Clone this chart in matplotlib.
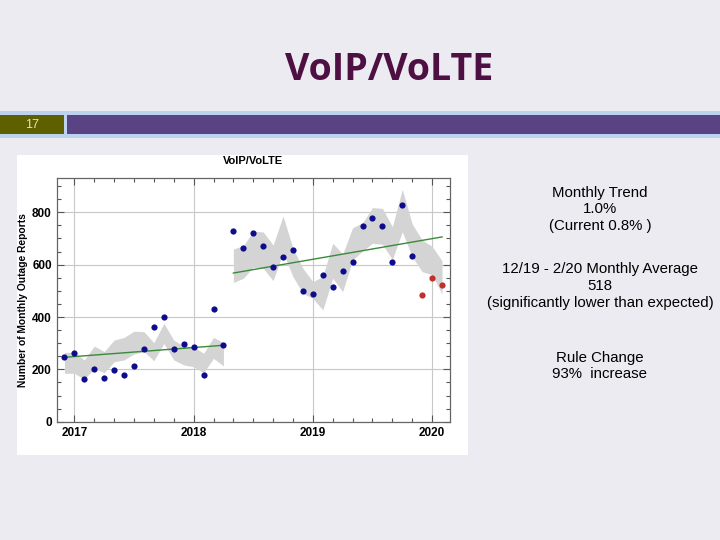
import numpy as np
import pandas as pd
import matplotlib
matplotlib.use("Agg")
import matplotlib.pyplot as plt
from matplotlib.ticker import MultipleLocator, FixedLocator
from matplotlib.patches import Rectangle

# ---------------- data ----------------
seg1_months = pd.period_range("2016-12", "2018-04", freq="M")
seg1_values = [246, 261, 162, 200, 166, 196, 177, 211, 276, 360, 399, 276, 296, 284, 177, 429, 292]
seg1_upper = [265, 265, 236, 289, 268, 312, 322, 346, 344, 302, 376, 312, 289, 287, 261, 322, 302]
seg1_lower = [185, 185, 162, 204, 187, 229, 236, 259, 268, 233, 299, 236, 217, 210, 187, 242, 213]
seg1_trend = [246, 292]

seg2_months = pd.period_range("2018-05", "2020-02", freq="M")
seg2_values = [727, 662, 720, 670, 590, 628, 655, 498, 487, 562, 513, 574, 609, 746, 777, 746, 609, 827, 632]
seg2_upper = [660, 672, 728, 725, 675, 786, 662, 586, 535, 555, 682, 641, 741, 760, 818, 815, 745, 888, 755, 694, 670, 615]
seg2_lower = [532, 548, 590, 586, 539, 646, 554, 490, 471, 427, 548, 497, 618, 652, 682, 678, 620, 726, 630, 573, 562, 488]
seg2_trend = [568, 706]

red_months = pd.period_range("2019-12", "2020-02", freq="M")
red_values = [483, 548, 521]

year_labels = ["2017", "2018", "2019", "2020"]
y_ticks = [0, 200, 400, 600, 800]

def midx(periods):
    return np.array([(p.year - 2017) * 12 + (p.month - 1) for p in periods], dtype=float)

x1 = midx(seg1_months)
x2 = midx(seg2_months)
xr = midx(red_months)

# ---------------- figure ----------------
W, H = 720, 540
fig = plt.figure(figsize=(7.2, 5.4), dpi=100)
fig.patch.set_facecolor("#ecebf2")

def fx(px):
    return px / W

def fy(py):
    return 1 - py / H

# header bar
fig.patches.append(Rectangle((0, fy(138)), 1, (138 - 111) / H, transform=fig.transFigure,
                             facecolor="#bcd2ee", edgecolor="none", zorder=0))
fig.patches.append(Rectangle((0, fy(134)), fx(64), (134 - 115) / H, transform=fig.transFigure,
                             facecolor="#5e6000", edgecolor="none", zorder=1))
fig.patches.append(Rectangle((fx(67), fy(134)), 1 - fx(67), (134 - 115) / H, transform=fig.transFigure,
                             facecolor="#5a4382", edgecolor="none", zorder=1))
fig.text(fx(32), fy(124.5), "17", color="#e4e4b8", fontsize=9, ha="center", va="center",
         family="Liberation Sans")

# slide title
fig.text(fx(389), fy(70), "VoIP/VoLTE", color="#4e1042", fontsize=27, fontweight="bold",
         ha="center", va="center", family="Open Sans")

# white chart panel
fig.patches.append(Rectangle((fx(17), fy(455)), fx(468 - 17), (455 - 155) / H, transform=fig.transFigure,
                             facecolor="white", edgecolor="none", zorder=1))

ax = fig.add_axes([fx(56.7), fy(421.7), fx(450 - 56.7), (421.7 - 178.3) / H])
ax.set_zorder(2)
ax.set_facecolor("white")

band_col = "#d4d4d4"
ax.fill_between(x1, seg1_lower, seg1_upper, color=band_col, linewidth=0, zorder=1)
ax.fill_between(x2, seg2_lower, seg2_upper, color=band_col, linewidth=0, zorder=1)
ax.plot([x1[0], x1[-1]], seg1_trend, color="#3a8a3a", lw=1.0, zorder=3)
ax.plot([x2[0], x2[-1]], seg2_trend, color="#3a8a3a", lw=1.0, zorder=3)
ax.scatter(x1, seg1_values, s=20, color="#0c0c8c", zorder=4, linewidths=0)
ax.scatter(x2[:len(seg2_values)], seg2_values, s=20, color="#0c0c8c", zorder=4, linewidths=0)
ax.scatter(xr, red_values, s=20, color="#c0302c", zorder=4, linewidths=0)

ax.set_xlim(-1.78, 37.8)
ax.set_ylim(0, 930)
ax.xaxis.set_major_locator(FixedLocator([0, 12, 24, 36]))
ax.set_xticklabels(year_labels)
ax.xaxis.set_minor_locator(MultipleLocator(2))
ax.yaxis.set_major_locator(FixedLocator(y_ticks))
ax.yaxis.set_minor_locator(MultipleLocator(50))
ax.grid(True, which="major", color="#c8c8c8", lw=0.8, zorder=0)
ax.set_axisbelow(True)
ax.tick_params(which="both", direction="in", top=True, right=True, color="#555555")
ax.tick_params(which="major", length=5, width=0.8)
ax.tick_params(which="minor", length=3, width=0.8)
ax.tick_params(axis="x", which="major", pad=4)
for lab in ax.get_xticklabels() + ax.get_yticklabels():
    lab.set_fontweight("bold")
    lab.set_fontsize(8.5)
    lab.set_family("Liberation Sans")
for s in ax.spines.values():
    s.set_color("#666666")
    s.set_linewidth(0.9)

ax.set_ylabel("Number of Monthly Outage Reports", fontsize=7.4, fontweight="bold",
              family="Liberation Sans", labelpad=3)
fig.text(fx(253), fy(161), "VoIP/VoLTE", fontsize=8, fontweight="bold", ha="center",
         va="center", family="Liberation Sans", zorder=5)

# right side annotations
tx = fx(600)
fs = 10.8
for y, t in [(193, "Monthly Trend"), (209, "1.0%"), (226, "(Current 0.8% )"),
             (269, "12/19 - 2/20 Monthly Average"), (286, "518"),
             (303, "(significantly lower than expected)"),
             (358, "Rule Change"), (374, "93%  increase")]:
    fig.text(tx, fy(y), t, fontsize=fs, ha="center", va="center", family="Liberation Sans",
             color="black")

fig.savefig("out.png", dpi=100, facecolor=fig.get_facecolor())
